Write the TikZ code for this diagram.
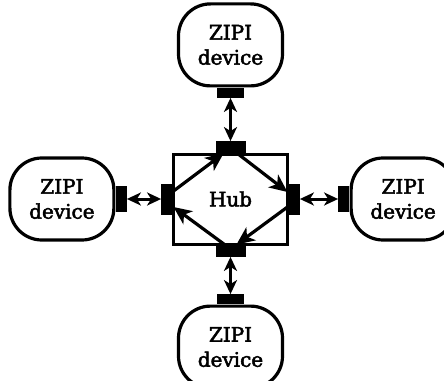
\documentclass[tikz,border=0pt]{standalone}
\usepackage{fontspec}
\setmainfont{DejaVu Serif}[FakeBold=2.4]
\usetikzlibrary{arrows.meta, positioning}

\begin{document}
\begin{tikzpicture}[
    device/.style={rectangle, rounded corners=32pt, minimum width=104pt, minimum height=82pt, align=center, draw=black, line width=3.2pt, font=\fontsize{20}{25}\selectfont},
    hubbox/.style={rectangle, minimum width=113pt, minimum height=90pt, draw=black, line width=3pt, font=\fontsize{20}{25}\selectfont},
    hport/.style={rectangle, fill=black, inner sep=0pt, minimum width=30pt, minimum height=12pt},
    vport/.style={rectangle, fill=black, inner sep=0pt, minimum width=12pt, minimum height=31pt},
    hdevport/.style={rectangle, fill=black, inner sep=0pt, minimum width=27pt, minimum height=10pt},
    vdevport/.style={rectangle, fill=black, inner sep=0pt, minimum width=11pt, minimum height=26pt},
    link/.style={line width=3pt, {Stealth[length=14pt, width=13pt, inset=4pt]}-{Stealth[length=14pt, width=13pt, inset=4pt]}},
    ring/.style={line width=3.2pt, -{Stealth[length=18pt, width=16pt, inset=5pt]}},
]
    \useasboundingbox (-230.5pt,-181pt) rectangle (213.5pt,199pt);

    % Hub and its four ports
    \node (hub) [hubbox] {Hub};
    \node (hub_n) [hport, anchor=south] at ([yshift=-1pt]hub.north) {};
    \node (hub_s) [hport, anchor=north] at ([yshift=1pt]hub.south) {};
    \node (hub_w) [vport, anchor=east] at ([xshift=1pt]hub.west) {};
    \node (hub_e) [vport, anchor=west] at ([xshift=-1pt]hub.east) {};

    % Devices
    \node (top_dev) [device, above=65pt of hub] {ZIPI\\device};
    \node (left_dev) [device, left=57pt of hub] {ZIPI\\device};
    \node (right_dev) [device, right=61pt of hub] {ZIPI\\device};
    \node (bottom_dev) [device, below=59pt of hub] {ZIPI\\device};

    \node (top_port) [hdevport, anchor=north] at (top_dev.south) {};
    \node (bottom_port) [hdevport, anchor=south] at (bottom_dev.north) {};
    \node (left_port) [vdevport, anchor=west] at (left_dev.east) {};
    \node (right_port) [vdevport, anchor=east] at (right_dev.west) {};

    % Device links
    \draw [link] (top_port.south) -- (hub_n.north);
    \draw [link] (bottom_port.north) -- (hub_s.south);
    \draw [link] (left_port.east) -- (hub_w.west);
    \draw [link] (right_port.west) -- (hub_e.east);

    % Ring inside the hub
    \draw [ring] ([yshift=8pt]hub_w.east) -- ([xshift=-7pt]hub_n.south);
    \draw [ring] ([xshift=7pt]hub_n.south) -- ([yshift=7pt]hub_e.west);
    \draw [ring] ([yshift=-8pt]hub_e.west) -- ([xshift=6pt]hub_s.north);
    \draw [ring] ([xshift=-6pt]hub_s.north) -- ([yshift=-8pt]hub_w.east);

\end{tikzpicture}
\end{document}
